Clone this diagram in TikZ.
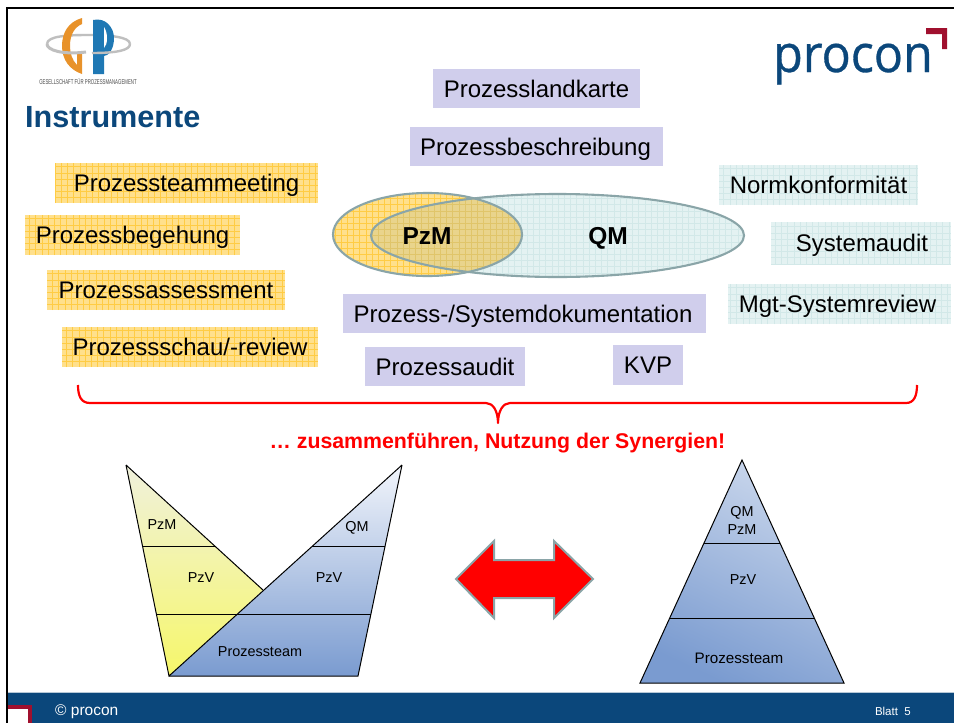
\documentclass[tikz,border=0pt]{standalone}
\usepackage{fontspec}
\setmainfont{Liberation Sans}
\newfontfamily\logofont[FakeStretch=.93,FakeBold=.6]{Open Sans}
\definecolor{navy}{HTML}{0B477B}
\definecolor{logored}{HTML}{A0102E}
\definecolor{lilac}{HTML}{D0CEEC}
\definecolor{yelfill}{HTML}{FFE08C}
\definecolor{yelgrid}{HTML}{FFCC44}
\definecolor{teafill}{HTML}{E4F2F2}
\definecolor{teagrid}{HTML}{D2E8E8}
\definecolor{outl}{HTML}{8AA5A8}
\definecolor{overlap}{HTML}{E9D48C}
\definecolor{ovgrid}{HTML}{E0C56A}
\definecolor{pyrblue}{HTML}{7A9BD0}
\definecolor{pyrpale}{HTML}{F2F5FB}
\definecolor{pyrmid}{HTML}{CAD7EC}
\definecolor{yelpale}{HTML}{F0F1DC}
\definecolor{yelstrong}{HTML}{F6F76A}
\definecolor{gpblue}{HTML}{1F78B4}
\definecolor{gporange}{HTML}{E8922A}
\tikzset{
 x=1pt,y=-1pt,
 boxtext/.style={inner sep=0pt,font=\fontsize{24}{28}\selectfont,text height=17pt,text depth=0pt},
 lilacbox/.style={boxtext,fill=lilac},
 yelbox/.style={boxtext,fill=yelfill,
  path picture={\draw[yelgrid,line width=.6pt,step=6.2pt] (path picture bounding box.south west) grid (path picture bounding box.north east);}},
 teabox/.style={boxtext,fill=teafill,
  path picture={\draw[teagrid,line width=.6pt,step=6.2pt] (path picture bounding box.south west) grid (path picture bounding box.north east);}},
 smalltext/.style={font=\fontsize{14.4}{17}\selectfont,inner sep=0pt},
 boldlabel/.style={font=\bfseries\fontsize{24.5}{28}\selectfont,inner sep=0pt,text height=17pt,text depth=0pt},
 pyrline/.style={black,line width=1pt},
 pyredge/.style={black,line width=1pt,line join=miter},
}
\begin{document}
\begin{tikzpicture}
\useasboundingbox (0,0) rectangle (954,723);
% frame
\fill[white] (0,0) rectangle (954,723);
% footer
\fill[navy] (8,692) rectangle (954,723);
\draw[white!70!navy,line width=.7pt] (8,692) -- (954,692);
\fill[logored] (8,705) rectangle (32,723);
\fill[white] (8,709) rectangle (28,723);
\draw[black,line width=2.5pt] (7,723) -- (7,8) -- (954,8);
\node[text=white,font=\fontsize{15.5}{17}\selectfont,anchor=west,inner sep=0pt] (copy) at (55,712) {© procon};
\node[text=white,font=\fontsize{11.5}{13}\selectfont,anchor=east,inner sep=0pt] (blatt) at (911,711) {Blatt\ \ 5};
% GP logo
\draw[gray!50,line width=2.4pt] (47,44) .. controls (47,36) and (68,35) .. (88,35) .. controls (110,35) and (130,37) .. (130,44);
\fill[gporange] (82,18) .. controls (68,22) and (62,33) .. (62,46) .. controls (62,60) and (70,70) .. (82,74) -- (82,53) -- (77,53) -- (77,65) .. controls (72,60) and (70,53) .. (70,46) .. controls (70,34) and (75,27) .. (82,24) -- cycle;
\fill[gpblue] (93,20) .. controls (106,17) and (114,28) .. (114,38) .. controls (114,50) and (108,56) .. (104,56) -- (104,74) -- (93,74) -- cycle;
\fill[white] (104,27) .. controls (106,30) and (107,34) .. (107,38) .. controls (107,43) and (106,46) .. (104,48) -- cycle;
\draw[gray!50,line width=2.4pt] (130,44) .. controls (130,50) and (118,53) .. (92,53);
\draw[gray!50,line width=3pt] (47,44) .. controls (47,50) and (62,55) .. (86,52);
\node[font=\fontsize{7}{8}\selectfont,text=black!70,inner sep=0pt] (gplogo) at (88,82) {\addfontfeature{FakeStretch=.62}GESELLSCHAFT FÜR PROZESSMANAGEMENT};
% procon logo
\node[text=navy,font=\logofont\fontsize{52}{56}\selectfont,anchor=base west,inner sep=0pt] (procon) at (773,72) {procon};
\fill[logored] (926,28) -- (947,28) -- (947,49) -- (942,49) -- (942,34) -- (926,34) -- cycle;
% title
\node[text=navy,font=\bfseries\fontsize{30.6}{34}\selectfont,anchor=west,inner sep=0pt] (title) at (25,117) {Instrumente};
% lilac
\node[lilacbox,minimum width=207,minimum height=39] (landkarte) at (536.5,88.5) {Prozesslandkarte};
\node[lilacbox,minimum width=253,minimum height=39] (beschr) at (536.5,146.5) {\kern-2ptProzessbeschreibung};
\node[lilacbox,minimum width=363,minimum height=39] (doku) at (524.5,313.5) {\kern-3ptProzess-/Systemdokumentation};
\node[lilacbox,minimum width=160,minimum height=39] (audit) at (445,366.5) {Prozessaudit};
\node[lilacbox,minimum width=70,minimum height=40] (kvp) at (648,365) {KVP};
% yellow
\node[yelbox,minimum width=263,minimum height=40] (meeting) at (186.5,183) {Prozessteammeeting};
\node[yelbox,minimum width=215,minimum height=40] (begehung) at (132.5,235) {Prozessbegehung};
\node[yelbox,minimum width=238,minimum height=40] (assess) at (166,290) {Prozessassessment};
\node[yelbox,minimum width=256,minimum height=40] (schau) at (190,347) {Prozessschau/-review};
% teal
\node[teabox,minimum width=199,minimum height=40] (norm) at (818.5,185) {Normkonformität};
\node[teabox,minimum width=180,minimum height=42] (sysaudit) at (861,243) {\kern2ptSystemaudit};
\node[teabox,minimum width=223,minimum height=40] (mgt) at (839.5,304) {\kern-4ptMgt-Systemreview};
% ellipses
\path[fill=teafill] (557.5,235.5) ellipse [x radius=186.5,y radius=41.5];
\begin{scope}
\clip (557.5,235.5) ellipse [x radius=186.5,y radius=41.5];
\draw[teagrid,line width=.6pt,step=6.2pt] (365,190) grid (750,280);
\end{scope}
\path[fill=yelfill] (427.5,234.5) ellipse [x radius=94.5,y radius=41.5];
\begin{scope}
\clip (427.5,234.5) ellipse [x radius=94.5,y radius=41.5];
\draw[yelgrid,line width=.6pt,step=6.2pt] (330,190) grid (525,280);
\fill[overlap] (557.5,235.5) ellipse [x radius=186.5,y radius=41.5];
\clip (557.5,235.5) ellipse [x radius=186.5,y radius=41.5];
\draw[ovgrid,line width=.6pt,step=6.2pt] (365,190) grid (525,280);
\end{scope}
\draw[outl,line width=2.1pt] (557.5,235.5) ellipse [x radius=186.5,y radius=41.5];
\draw[outl,line width=2.1pt] (427.5,234.5) ellipse [x radius=94.5,y radius=41.5];
\node[boldlabel] (pzmb) at (427,236) {PzM};
\node[boldlabel] (qmb) at (608,236) {QM};
% brace
\coordinate (bl) at (78,385);
\coordinate (br) at (917,385);
\coordinate (bt) at (498,423);
\draw[red,line width=2.2pt,line join=round] (bl) .. controls (78,396) and (81,403) .. (90,403) -- (486,403) .. controls (493,403) and (498,411) .. (bt) .. controls (498,411) and (503,403) .. (510,403) -- (906,403) .. controls (914,403) and (917,396) .. (br);
\node[text=red,font=\bfseries\fontsize{21.3}{24}\selectfont,inner sep=0pt] (synergy) at (497.5,443) {… zusammenführen, Nutzung der Synergien!};
% left pyramid
\shade[top color=yelpale,bottom color=yelstrong] (126,465) -- (263,590) -- (169,676) -- cycle;
\shade[top color=pyrpale,bottom color=pyrblue] (402,465) -- (358,676) -- (169,676) -- cycle;
\draw[pyredge] (126,465) -- (263,590);
\draw[pyredge] (402,465) -- (169,676) -- (126,465);
\draw[pyredge] (402,465) -- (358,676) -- (169,676);
\draw[pyrline] (143,546) -- (216,546);
\draw[pyrline] (312,546) -- (385,546);
\draw[pyrline] (157,614) -- (371,614);
\node[smalltext] (a1) at (162,525) {PzM};
\node[smalltext] (a2) at (201,578) {PzV};
\node[smalltext] (a3) at (357,528) {QM};
\node[smalltext] (a4) at (329,578) {PzV};
\node[smalltext] (a5) at (260,652) {Prozessteam};
% arrow
\draw[outl,fill=red,line width=2pt,line join=miter] (456,579) -- (494,541) -- (494,560) -- (554,560) -- (554,541) -- (593,579) -- (554,618) -- (554,598) -- (494,598) -- (494,618) -- cycle;
% right pyramid
\shade[top color=pyrmid,bottom color=pyrblue,shading angle=-25] (742,460) -- (844,683) -- (640,683) -- cycle;
\draw[pyredge] (742,460) -- (844,683) -- (640,683) -- cycle;
\draw[pyrline] (704,543) -- (780,543);
\draw[pyrline] (670,618) -- (814,618);
\node[smalltext,align=center,font=\fontsize{14.4}{18}\selectfont] (b1) at (742,520) {QM\\PzM};
\node[smalltext] (b2) at (743,580) {PzV};
\node[smalltext,font=\fontsize{15.2}{18}\selectfont] (b3) at (739,658) {Prozessteam};
\end{tikzpicture}
\end{document}
